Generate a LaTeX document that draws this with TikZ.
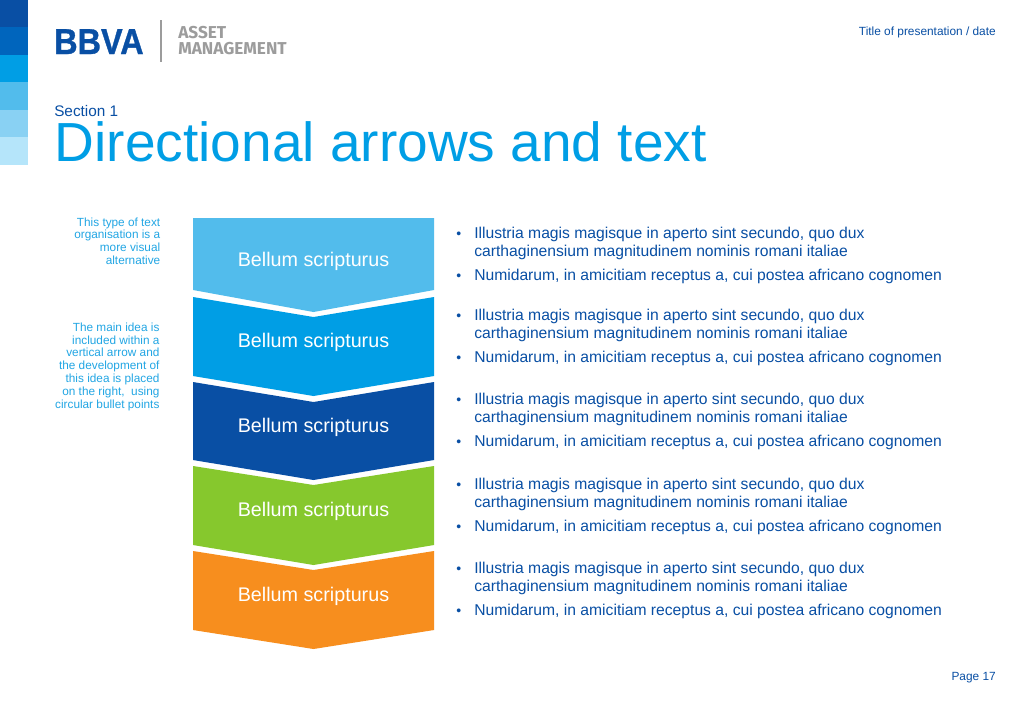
\documentclass[tikz,border=0pt]{standalone}
\usepackage{fontspec}
\setmainfont{Liberation Sans}
\newfontfamily\amfont{Fira Sans}[UprightFont=* Bold]
\definecolor{navy}{HTML}{094FA4}
\definecolor{cyanb}{HTML}{009EE5}
\definecolor{notec}{HTML}{22A6E4}
\definecolor{sky}{HTML}{52BCEC}
\definecolor{greenb}{HTML}{86C82D}
\definecolor{orangeb}{HTML}{F78E1E}
\definecolor{s2}{HTML}{0065BD}
\definecolor{s4}{HTML}{89D1F3}
\definecolor{s5}{HTML}{B5E5FA}
\definecolor{graytx}{HTML}{9C9C9C}
\tikzset{
  x=0.75pt,y=-0.75pt,
  strip/.style={fill=#1,draw=none},
  label/.style={anchor=center,text=white,font=\fontsize{14.8pt}{17pt}\selectfont,inner sep=0},
  bodyline/.style={anchor=base west,text=navy,font=\fontsize{11.75pt}{13pt}\selectfont,inner sep=0},
  bulletmark/.style={anchor=base west,text=navy,font=\fontsize{10.5pt}{13pt}\selectfont,inner sep=0},
  note/.style={anchor=north east,align=right,text=notec,font=\fontsize{8.85pt}{9.6pt}\selectfont,inner sep=0},
  gray label/.style={anchor=base west,inner sep=0,text=graytx,font=\amfont\fontsize{12.9pt}{13pt}\selectfont},
  small line/.style={anchor=base east,inner sep=0,text=navy,font=\fontsize{8.9pt}{11pt}\selectfont},
}
\newcommand{\chev}[7]{% name, colour, top side, notch, bottom side, tip, label y
  \fill[#2] (193,#3) -- (313.5,#4) -- (434,#3) -- (434,#5) -- (313.5,#6) -- (193,#5) -- cycle;
  \node[label] (#1) at (313.5,#7) {Bellum scripturus};
}
\newcommand{\blk}[2]{% name, y of first baseline
  \node[bodyline] (#1a) at (474,#2) {Illustria magis magisque in aperto sint secundo, quo dux};
  \node[bodyline] (#1b) at (474,#2+17.5) {carthaginensium magnitudinem nominis romani italiae};
  \node[bodyline] (#1c) at (474,#2+41.7) {Numidarum, in amicitiam receptus a, cui postea africano cognomen};
  \node[bulletmark] (#1d) at (456,#2) {•};
  \node[bulletmark] (#1e) at (456,#2+41.7) {•};
}
\begin{document}
\begin{tikzpicture}
\useasboundingbox (0,0) rectangle (1023,708);
\fill[white] (0,0) rectangle (1023,708);
% side strip
\fill[strip=navy] (0,0) rectangle (27.5,27);
\fill[strip=s2] (0,27) rectangle (27.5,55);
\fill[strip=cyanb] (0,55) rectangle (27.5,82);
\fill[strip=sky] (0,82) rectangle (27.5,110);
\fill[strip=s4] (0,110) rectangle (27.5,137);
\fill[strip=s5] (0,137) rectangle (27.5,165);
% logo
\node[anchor=base west,inner sep=0,text=navy,xscale=0.9,font=\bfseries\fontsize{27pt}{27pt}\selectfont] (bbva) at (54,54) {\addfontfeature{FakeBold=1}BBVA};
\fill[graytx] (160.2,20) rectangle (161.6,62);
\node[gray label] (am1) at (178,38) {ASSET};
\node[gray label] (am2) at (178,54.5) {MANAGEMENT};
% header and footer
\node[small line] (ttl) at (996,35) {Title of presentation / date};
\node[small line] (pg) at (996,680) {Page 17};
\node[anchor=base west,inner sep=0,text=navy,font=\fontsize{11.5pt}{13pt}\selectfont] (sec) at (54,116) {Section 1};
\node[anchor=base west,inner sep=0,text=cyanb,font=\fontsize{41.3pt}{44pt}\selectfont] (title) at (54.5,161) {Directional arrows and text};
% notes
\node[note] (n1) at (160.5,217.3) {This type of text\\organisation is a\\more visual\\alternative};
\node[note] (n2) at (159.7,322.5) {The main idea is\\included within a\\vertical arrow and\\the development of\\this idea is placed\\on the right,\ \ using\\circular bullet points};
% chevrons
\chev{c1}{sky}{218}{218}{290}{312}{261}
\chev{c2}{cyanb}{297}{317}{376}{396}{342.5}
\chev{c3}{navy}{382}{402}{460}{480}{427}
\chev{c4}{greenb}{466}{485}{545}{565}{511.5}
\chev{c5}{orangeb}{551}{570}{630}{649}{596.5}
% text
\blk{b1}{238.6}
\blk{b2}{320.6}
\blk{b3}{404.6}
\blk{b4}{489.6}
\blk{b5}{573.6}
\end{tikzpicture}
\end{document}
